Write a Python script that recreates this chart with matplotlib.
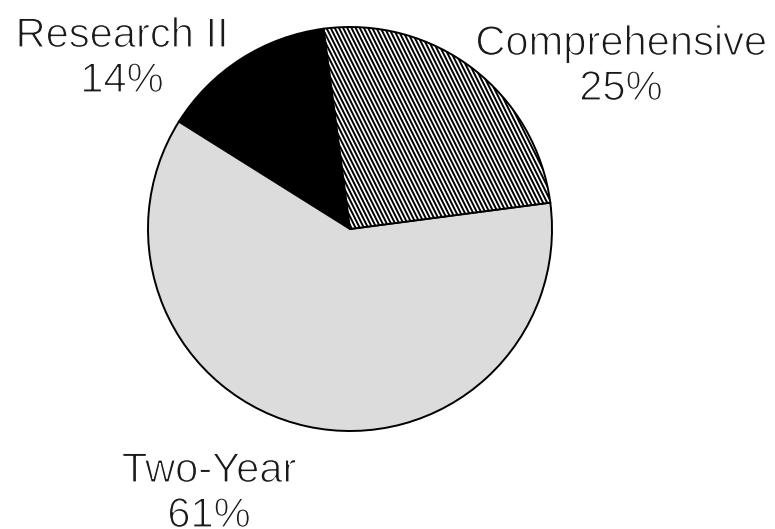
import numpy as np
import matplotlib
matplotlib.use("Agg")
import matplotlib.pyplot as plt
import matplotlib.hatch as mhatch
from matplotlib.path import Path
import matplotlib.patheffects as pe

# Share of institutions by Carnegie type
categories = ["Research II", "Two-Year", "Comprehensive"]
shares = [14, 61, 25]
fills = ["black", "#dcdcdc", "white"]
hatches = [None, None, "\\\\\\\\"]


class SteepBackslashHatch(mhatch.HatchPatternBase):
    """Backslash hatch drawn at a steep (about 63 degree) slope."""

    def __init__(self, hatch, density):
        n = int(hatch.count("\\") * density)
        self.n = n + (n % 2)
        self.num_lines = (self.n + self.n // 2 + 1) if self.n else 0
        self.num_vertices = self.num_lines * 2

    def set_vertices_and_codes(self, vertices, codes):
        x0 = np.arange(-self.n // 2, self.n + 1) / self.n
        vertices[0::2, 0] = x0
        vertices[0::2, 1] = 1.0
        vertices[1::2, 0] = x0 + 0.5
        vertices[1::2, 1] = 0.0
        codes[0::2] = Path.MOVETO
        codes[1::2] = Path.LINETO


mhatch._hatch_types = [SteepBackslashHatch if c is mhatch.SouthEastHatch else c
                       for c in mhatch._hatch_types]

plt.rcParams["hatch.linewidth"] = 1.4
plt.rcParams["font.family"] = ["Liberation Sans", "DejaVu Sans"]

W, H = 775, 529
fig = plt.figure(figsize=(W / 100, H / 100), dpi=100)
ax = fig.add_axes([0, 0, 1, 1])

wedges, _ = ax.pie(
    shares,
    startangle=97.5,
    counterclock=True,
    colors=fills,
    center=(350, H - 229),
    radius=202,
    wedgeprops=dict(edgecolor="black", linewidth=1.4),
)
for w, h in zip(wedges, hatches):
    if h:
        w.set_hatch(h)

ax.set_xlim(0, W)
ax.set_ylim(0, H)
ax.set_aspect("equal")
ax.axis("off")

# thin the glyph strokes a little for a light typeface look
thin = [pe.Normal(),
        pe.PathPatchEffect(edgecolor="white", facecolor="none", linewidth=0.9)]

# label anchor points (centre x, baseline of first line)
label_pos = {
    "Research II": (122, H - 47),
    "Two-Year": (209, H - 482),
    "Comprehensive": (621, H - 55),
}
line_gap = 45
for name, val in zip(categories, shares):
    x, y = label_pos[name]
    ax.text(x, y, name, ha="center", va="baseline", fontsize=30,
            color="#1a1a1a", path_effects=thin)
    ax.text(x, y - line_gap, f"{val}%", ha="center", va="baseline",
            fontsize=30, color="#1a1a1a", path_effects=thin)

fig.savefig("out.png", dpi=100, facecolor="white")
